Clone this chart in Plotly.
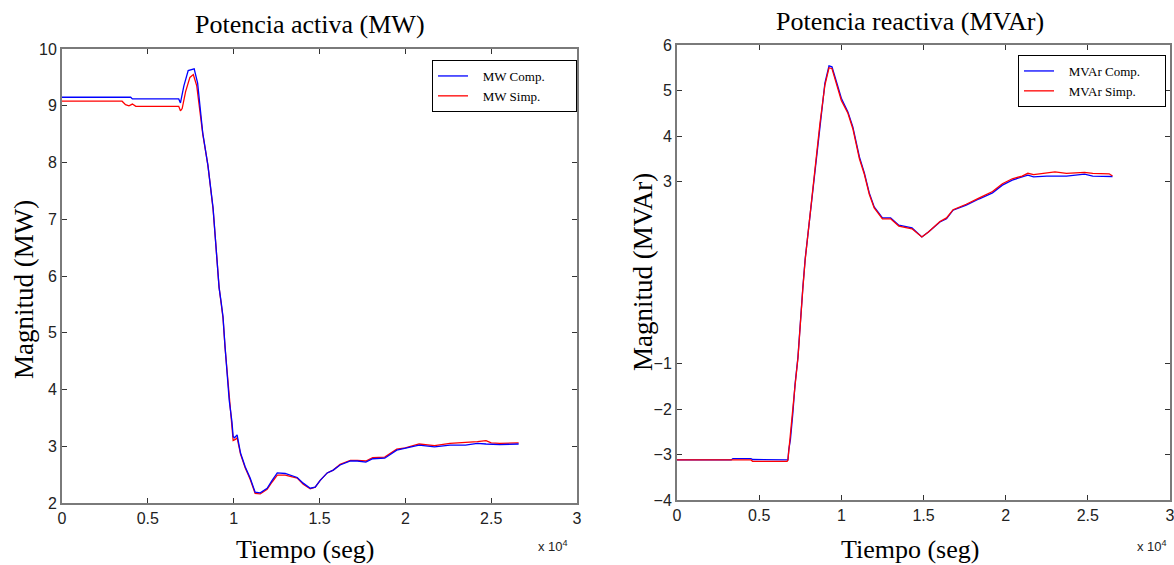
import plotly.graph_objects as go

# ---------------- data (time in units of 10^4 s) ----------------
t_mw_comp = [0, 0.40, 0.41, 0.68, 0.69, 0.71, 0.735, 0.77, 0.79, 0.82, 0.85, 0.88, 0.895,
             0.915, 0.927, 0.938, 0.95, 0.962, 0.974, 0.99, 0.997, 1.005, 1.02, 1.04, 1.067,
             1.096, 1.125, 1.155, 1.195, 1.224, 1.254, 1.30, 1.37, 1.405, 1.446, 1.475, 1.504,
             1.545, 1.58, 1.62, 1.68, 1.72, 1.77, 1.81, 1.88, 1.95, 2.0, 2.08, 2.17, 2.26,
             2.35, 2.42, 2.47, 2.55, 2.66]
mw_comp = [9.15, 9.15, 9.12, 9.12, 9.05, 9.35, 9.62, 9.65, 9.40, 8.52, 7.95, 7.20, 6.60,
           5.80, 5.54, 5.28, 4.75, 4.34, 3.81, 3.43, 3.17, 3.15, 3.20, 2.88, 2.64,
           2.44, 2.19, 2.18, 2.26, 2.40, 2.53, 2.52, 2.45, 2.35, 2.26, 2.28, 2.40,
           2.53, 2.58, 2.67, 2.74, 2.74, 2.72, 2.78, 2.79, 2.93, 2.96, 3.02, 2.99, 3.02,
           3.02, 3.05, 3.04, 3.03, 3.04]

t_mw_simp = [0, 0.35, 0.37, 0.39, 0.41, 0.43, 0.68, 0.69, 0.70, 0.72, 0.745, 0.765, 0.785,
             0.82, 0.85, 0.88, 0.895, 0.915, 0.927, 0.938, 0.95, 0.962, 0.974, 0.99, 0.997,
             1.01, 1.02, 1.04, 1.067, 1.096, 1.125, 1.155, 1.195, 1.224, 1.254, 1.30, 1.37,
             1.405, 1.446, 1.475, 1.504, 1.545, 1.58, 1.62, 1.68, 1.72, 1.77, 1.81, 1.88,
             1.95, 2.0, 2.08, 2.17, 2.26, 2.35, 2.42, 2.47, 2.50, 2.55, 2.66]
mw_simp = [9.08, 9.08, 9.02, 9.00, 9.03, 8.99, 8.99, 8.91, 8.95, 9.25, 9.50, 9.55, 9.35,
           8.50, 7.95, 7.18, 6.60, 5.80, 5.52, 5.26, 4.73, 4.32, 3.80, 3.40, 3.10,
           3.12, 3.15, 2.86, 2.62, 2.42, 2.17, 2.16, 2.24, 2.37, 2.49, 2.49, 2.44,
           2.33, 2.25, 2.28, 2.40, 2.53, 2.58, 2.68, 2.75, 2.75, 2.74, 2.80, 2.81,
           2.95, 2.97, 3.04, 3.01, 3.05, 3.06, 3.08, 3.10, 3.06, 3.05, 3.06]

t_mvar_comp = [0, 0.33, 0.34, 0.45, 0.46, 0.67, 0.675, 0.68, 0.69, 0.705, 0.718, 0.736, 0.748,
               0.766, 0.78, 0.80, 0.82, 0.835, 0.857, 0.87, 0.90, 0.925, 0.943, 0.973, 1.0,
               1.04, 1.07, 1.11, 1.14, 1.17, 1.20, 1.25, 1.30, 1.35, 1.43, 1.49, 1.53, 1.60,
               1.64, 1.68, 1.76, 1.84, 1.92, 1.98, 2.04, 2.10, 2.135, 2.17, 2.25, 2.37, 2.48,
               2.53, 2.60, 2.65]
mvar_comp = [-3.12, -3.12, -3.09, -3.09, -3.11, -3.11, -3.12, -2.90, -2.68, -2.09, -1.47, -0.86, -0.20,
             0.68, 1.30, 1.95, 2.60, 3.10, 3.90, 4.31, 5.16, 5.54, 5.52, 5.16, 4.83,
             4.53, 4.20, 3.54, 3.19, 2.75, 2.44, 2.20, 2.20, 2.04, 1.98, 1.78, 1.89, 2.11,
             2.18, 2.37, 2.48, 2.62, 2.75, 2.92, 3.03, 3.10, 3.14, 3.10, 3.12, 3.12, 3.16,
             3.12, 3.11, 3.11]

t_mvar_simp = [0, 0.33, 0.45, 0.46, 0.67, 0.675, 0.68, 0.69, 0.705, 0.718, 0.736, 0.748,
               0.766, 0.78, 0.80, 0.82, 0.835, 0.857, 0.87, 0.90, 0.925, 0.943, 0.973, 1.0,
               1.04, 1.07, 1.11, 1.14, 1.17, 1.20, 1.25, 1.30, 1.35, 1.43, 1.49, 1.53, 1.60,
               1.64, 1.68, 1.76, 1.84, 1.92, 1.98, 2.04, 2.10, 2.135, 2.17, 2.25, 2.30, 2.37,
               2.48, 2.53, 2.63, 2.65]
mvar_simp = [-3.12, -3.12, -3.12, -3.15, -3.15, -3.12, -2.92, -2.70, -2.10, -1.50, -0.88, -0.22,
             0.66, 1.28, 1.93, 2.58, 3.08, 3.88, 4.28, 5.12, 5.50, 5.48, 5.10, 4.78,
             4.50, 4.16, 3.50, 3.16, 2.72, 2.42, 2.18, 2.18, 2.02, 1.96, 1.78, 1.89, 2.12,
             2.20, 2.38, 2.50, 2.64, 2.78, 2.95, 3.06, 3.12, 3.18, 3.15, 3.18, 3.21, 3.18,
             3.20, 3.18, 3.17, 3.12]

x_ticks = [0, 0.5, 1, 1.5, 2, 2.5, 3]
x_tick_text = ["0", "0.5", "1", "1.5", "2", "2.5", "3"]
mw_ticks = [2, 3, 4, 5, 6, 7, 8, 9, 10]
mvar_ticks_labeled = [-4, -3, -2, -1, 3, 4, 5, 6]
mvar_ticks_unlabeled = [0, 1, 2]

# ---------------- figure ----------------
W, H = 1174, 565
SERIF = "Liberation Serif"
SANS = "Liberation Sans"
BLUE = "#0000ff"
RED = "#ff0000"
NB = "&nbsp;"

fig = go.Figure()

fig.add_trace(go.Scatter(x=t_mw_simp, y=mw_simp, mode="lines",
                         name=NB * 3 + "MW Simp." + NB * 8,
                         line=dict(color=RED, width=1.3), xaxis="x", yaxis="y",
                         legend="legend", legendrank=2))
fig.add_trace(go.Scatter(x=t_mw_comp, y=mw_comp, mode="lines",
                         name=NB * 3 + "MW Comp." + NB * 8,
                         line=dict(color=BLUE, width=1.3), xaxis="x", yaxis="y",
                         legend="legend", legendrank=1))
fig.add_trace(go.Scatter(x=t_mvar_comp, y=mvar_comp, mode="lines",
                         name=NB * 3 + "MVAr Comp." + NB * 6,
                         line=dict(color=BLUE, width=1.3), xaxis="x2", yaxis="y2",
                         legend="legend2", legendrank=1))
fig.add_trace(go.Scatter(x=t_mvar_simp, y=mvar_simp, mode="lines",
                         name=NB * 3 + "MVAr Simp." + NB * 6,
                         line=dict(color=RED, width=1.3), xaxis="x2", yaxis="y2",
                         legend="legend2", legendrank=2))

axis_common = dict(showgrid=False, zeroline=False, showline=True, linecolor="#7a7a7a",
                   linewidth=2, mirror="ticks", ticks="inside", ticklen=5,
                   tickcolor="#333333", tickwidth=1,
                   tickfont=dict(family=SANS, size=16, color="#222222"),
                   ticklabeloverflow="allow", automargin=False)

fig.update_layout(
    width=W, height=H, autosize=False,
    margin=dict(l=0, r=0, t=0, b=0),
    paper_bgcolor="white", plot_bgcolor="white",
    showlegend=True,
    xaxis=dict(domain=[62 / W, 577 / W], anchor="y", range=[0, 3],
               tickvals=x_ticks, ticktext=x_tick_text, **axis_common),
    yaxis=dict(domain=[1 - 503 / H, 1 - 49 / H], anchor="x", range=[2, 10],
               tickvals=mw_ticks, **axis_common),
    xaxis2=dict(domain=[677 / W, 1170 / W], anchor="y2", range=[0, 3],
                tickvals=x_ticks, ticktext=x_tick_text, **axis_common),
    yaxis2=dict(domain=[1 - 500 / H, 1 - 45 / H], anchor="x2", range=[-4, 6],
                tickvals=mvar_ticks_labeled, **axis_common),
    yaxis3=dict(domain=[1 - 500 / H, 1 - 45 / H], anchor="x2", overlaying="y2",
                range=[-4, 6], tickvals=mvar_ticks_unlabeled, showticklabels=False,
                showgrid=False, zeroline=False, showline=False, mirror="ticks",
                ticks="inside", ticklen=5, tickcolor="#333333", tickwidth=1,
                automargin=False),
    legend=dict(x=432 / W, y=1 - 60 / H, xanchor="left", yanchor="top",
                bgcolor="white", bordercolor="black", borderwidth=1,
                font=dict(family=SERIF, size=13, color="black"),
                itemwidth=30, tracegroupgap=0),
    legend2=dict(x=1018 / W, y=1 - 55 / H, xanchor="left", yanchor="top",
                 bgcolor="white", bordercolor="black", borderwidth=1,
                 font=dict(family=SERIF, size=13, color="black"),
                 itemwidth=30, tracegroupgap=0),
)

ann = []
ann.append(dict(text="Potencia activa (MW)", x=310 / W, y=1 - 25 / H, xref="paper", yref="paper",
                showarrow=False, xanchor="center", yanchor="middle",
                font=dict(family=SERIF, size=26, color="black")))
ann.append(dict(text="Potencia reactiva (MVAr)", x=910 / W, y=1 - 22 / H, xref="paper", yref="paper",
                showarrow=False, xanchor="center", yanchor="middle",
                font=dict(family=SERIF, size=26, color="black")))
ann.append(dict(text="Magnitud (MW)", x=24 / W, y=1 - 290 / H, xref="paper", yref="paper",
                showarrow=False, xanchor="center", yanchor="middle", textangle=-90,
                font=dict(family=SERIF, size=27, color="black")))
ann.append(dict(text="Magnitud (MVAr)", x=643 / W, y=1 - 272 / H, xref="paper", yref="paper",
                showarrow=False, xanchor="center", yanchor="middle", textangle=-90,
                font=dict(family=SERIF, size=27, color="black")))
ann.append(dict(text="Tiempo (seg)", x=305 / W, y=1 - 549 / H, xref="paper", yref="paper",
                showarrow=False, xanchor="center", yanchor="middle",
                font=dict(family=SERIF, size=26, color="black")))
ann.append(dict(text="Tiempo (seg)", x=910 / W, y=1 - 549 / H, xref="paper", yref="paper",
                showarrow=False, xanchor="center", yanchor="middle",
                font=dict(family=SERIF, size=26, color="black")))
ann.append(dict(text="x 10<sup>4</sup>", x=553 / W, y=1 - 546 / H, xref="paper", yref="paper",
                showarrow=False, xanchor="center", yanchor="middle",
                font=dict(family=SANS, size=13, color="#222222")))
ann.append(dict(text="x 10<sup>4</sup>", x=1152 / W, y=1 - 546 / H, xref="paper", yref="paper",
                showarrow=False, xanchor="center", yanchor="middle",
                font=dict(family=SANS, size=13, color="#222222")))
fig.update_layout(annotations=ann)

fig.write_html("out.html", config={"displayModeBar": False},
               post_script="document.body.style.margin='0';document.body.style.overflow='hidden';")
